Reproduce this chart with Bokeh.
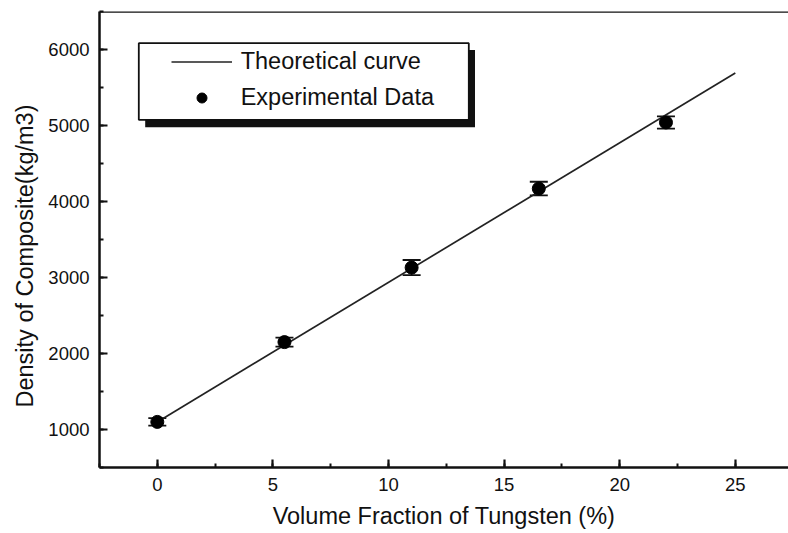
from bokeh.plotting import figure
from bokeh.models import (ColumnDataSource, Whisker, TeeHead, SingleIntervalTicker,
                          BoxAnnotation, Span, Title)
from bokeh.embed import file_html
from bokeh.resources import INLINE

# Volume fraction of tungsten (%) and measured composite density (kg/m3)
vol_fraction = [0, 5.5, 11, 16.5, 22]
density = [1100, 2150, 3130, 4170, 5040]
density_err = [50, 60, 100, 90, 80]

# Rule-of-mixtures prediction (straight line)
theory_fraction = [0, 25]
theory_density = [1100, 5690]

FONT = "Liberation Sans"
INK = "#111111"

p = figure(width=788, height=533, x_range=(-2.5, 27.3), y_range=(500, 6500),
           min_border_left=99, min_border_right=0, min_border_top=11,
           min_border_bottom=66, output_backend="svg", toolbar_location=None,
           background_fill_color="white", border_fill_color="white")
p.outline_line_color = None
p.xgrid.visible = False
p.ygrid.visible = False

p.xaxis.ticker = SingleIntervalTicker(interval=5, num_minor_ticks=2)
p.yaxis.ticker = SingleIntervalTicker(interval=1000, num_minor_ticks=2)

for ax in (p.xaxis[0], p.yaxis[0]):
    ax.axis_line_width = 2.5
    ax.axis_line_color = INK
    ax.major_tick_in = 8
    ax.major_tick_out = 0
    ax.minor_tick_in = 4
    ax.minor_tick_out = 0
    ax.major_tick_line_width = 2.2
    ax.minor_tick_line_width = 2
    ax.major_tick_line_color = INK
    ax.minor_tick_line_color = INK
    ax.major_label_text_font = FONT
    ax.major_label_text_font_size = "18.5px"
    ax.major_label_text_color = INK
    ax.axis_label_text_font = FONT
    ax.axis_label_text_font_size = "23.5px"
    ax.axis_label_text_font_style = "normal"
    ax.axis_label_text_color = INK

p.xaxis.axis_label = "Volume Fraction of Tungsten (%)"
p.xaxis.major_label_standoff = 10
p.xaxis.axis_label_standoff = 9
p.yaxis.major_label_standoff = 10

# y-axis title as a side title, starting a little above the frame bottom
p.add_layout(Title(text="Density of Composite(kg/m3)", align="left", offset=60,
                   text_font=FONT, text_font_size="23.5px", text_font_style="normal",
                   text_color=INK, standoff=15), "left")

# top frame edge
p.add_layout(Span(location=6500, dimension="width", line_color=INK, line_width=2.5))

# legend box with drop shadow (screen units, relative to the frame)
p.add_layout(BoxAnnotation(left=45.7, right=375.5, top=417.5, bottom=340.3,
                           left_units="screen", right_units="screen",
                           top_units="screen", bottom_units="screen",
                           fill_color=INK, fill_alpha=1, line_color=None))
p.add_layout(BoxAnnotation(left=39.3, right=369.3, top=424.3, bottom=347.7,
                           left_units="screen", right_units="screen",
                           top_units="screen", bottom_units="screen",
                           fill_color="white", fill_alpha=1,
                           line_color=INK, line_width=1.8, line_alpha=1))

src = ColumnDataSource(dict(x=vol_fraction, y=density,
                            lo=[d - e for d, e in zip(density, density_err)],
                            hi=[d + e for d, e in zip(density, density_err)]))

p.line(theory_fraction, theory_density, line_color="#222222", line_width=1.7,
       legend_label="Theoretical curve")
p.add_layout(Whisker(source=src, base="x", upper="hi", lower="lo",
                     line_color=INK, line_width=1.5,
                     upper_head=TeeHead(size=18, line_color=INK, line_width=1.8),
                     lower_head=TeeHead(size=18, line_color=INK, line_width=1.8)))
p.scatter("x", "y", source=src, size=13, fill_color="black", line_color="black",
          legend_label="Experimental Data")

lg = p.legend[0]
lg.location = (71.7, 356.2)
lg.padding = 0
lg.margin = 0
lg.spacing = 9
lg.glyph_width = 61
lg.glyph_height = 25
lg.label_height = 25
lg.label_standoff = 9
lg.label_text_font = FONT
lg.label_text_font_size = "23.5px"
lg.label_text_color = INK
lg.border_line_color = None
lg.background_fill_alpha = 0

open("out.html", "w").write(file_html(p, INLINE))
